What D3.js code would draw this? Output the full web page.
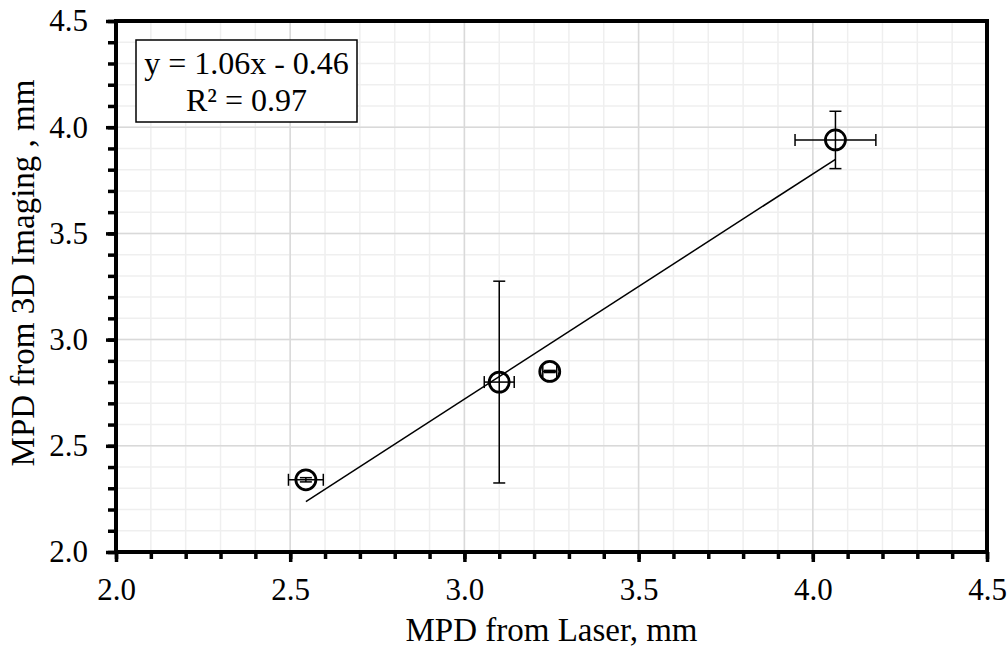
<!DOCTYPE html>
<html>
<head>
<meta charset="utf-8">
<script src="https://cdn.jsdelivr.net/npm/d3@7"></script>
<style>
body{margin:0;background:#fff;}
svg text{font-family:"Liberation Serif","Times New Roman",Times,"DejaVu Serif",serif !important;fill:#000;}
</style>
</head>
<body>
<div id="chart"></div>
<script>
var w = 1008;
var h = 650;
var margin = {top:21, right:21, bottom:98, left:116};

// data
var laserMPD = [2.545, 3.10, 3.245, 4.065];
var imagingMPD = [2.34, 2.80, 2.85, 3.94];
var laserErr = [0.05, 0.043, 0.02, 0.116];
var imagingErr = [0.01, 0.475, 0.005, 0.135];
var xTicks = [2.0, 2.5, 3.0, 3.5, 4.0, 4.5];
var yTicks = [2.0, 2.5, 3.0, 3.5, 4.0, 4.5];
var fitSlope = 1.06;
var fitIntercept = -0.46;
var fitLabel = ["y = 1.06x - 0.46", "R\u00B2 = 0.97"];

var pts = laserMPD.map(function(d,i){
	return {x:d, y:imagingMPD[i], ex:laserErr[i], ey:imagingErr[i]};
});

var svg = d3.select("#chart")
	.append("svg")
	.attr("width", w)
	.attr("height", h);

var xscale = d3.scaleLinear()
	.domain([2.0,4.5])
	.range([margin.left, w-margin.right]);

var yscale = d3.scaleLinear()
	.domain([2.0,4.5])
	.range([h-margin.bottom, margin.top]);

var minorTicks = d3.range(20,46).map(function(d){return d/10;});

// grid, minor first then major
svg.append("g").selectAll("line")
	.data(minorTicks)
	.enter().append("line")
		.attr("x1", function(d){return xscale(d)})
		.attr("x2", function(d){return xscale(d)})
		.attr("y1", yscale(2.0))
		.attr("y2", yscale(4.5))
		.style("stroke", "#efefef")
		.style("stroke-width", 1.5);
svg.append("g").selectAll("line")
	.data(minorTicks)
	.enter().append("line")
		.attr("y1", function(d){return yscale(d)})
		.attr("y2", function(d){return yscale(d)})
		.attr("x1", xscale(2.0))
		.attr("x2", xscale(4.5))
		.style("stroke", "#efefef")
		.style("stroke-width", 1.5);
svg.append("g").selectAll("line")
	.data(xTicks)
	.enter().append("line")
		.attr("x1", function(d){return xscale(d)})
		.attr("x2", function(d){return xscale(d)})
		.attr("y1", yscale(2.0))
		.attr("y2", yscale(4.5))
		.style("stroke", "#d9d9d9")
		.style("stroke-width", 1.5);
svg.append("g").selectAll("line")
	.data(yTicks)
	.enter().append("line")
		.attr("y1", function(d){return yscale(d)})
		.attr("y2", function(d){return yscale(d)})
		.attr("x1", xscale(2.0))
		.attr("x2", xscale(4.5))
		.style("stroke", "#d9d9d9")
		.style("stroke-width", 1.5);

// axes
var xMinor = d3.axisBottom(xscale).tickValues(minorTicks).tickSize(7).tickFormat("");
var xMajor = d3.axisBottom(xscale).tickValues(xTicks).tickSize(10).tickPadding(16).tickFormat(d3.format(".1f"));
var yMinor = d3.axisLeft(yscale).tickValues(minorTicks).tickSize(8).tickFormat("");
var yMajor = d3.axisLeft(yscale).tickValues(yTicks).tickSize(10).tickPadding(18).tickFormat(d3.format(".1f"));

[ [xMinor,"x"],[xMajor,"x"],[yMinor,"y"],[yMajor,"y"] ].forEach(function(a){
	var g = svg.append("g")
		.attr("transform", a[1]=="x" ? "translate(0,"+yscale(2.0)+")" : "translate("+xscale(2.0)+",0)")
		.call(a[0])
		.attr("font-family", null)
		.attr("font-size", null);
	g.select(".domain").remove();
	g.selectAll("line").style("stroke","#000").style("stroke-width",3.5);
	g.selectAll("text").style("font-size","31px");
});

// frame
svg.append("rect")
	.attr("x", xscale(2.0))
	.attr("y", yscale(4.5))
	.attr("width", xscale(4.5)-xscale(2.0))
	.attr("height", yscale(2.0)-yscale(4.5))
	.style("fill","none")
	.style("stroke","#000")
	.style("stroke-width",4);

// trend line over data range
var xr = d3.extent(laserMPD);
svg.append("line")
	.attr("x1", xscale(xr[0]))
	.attr("y1", yscale(fitSlope*xr[0]+fitIntercept))
	.attr("x2", xscale(xr[1]))
	.attr("y2", yscale(fitSlope*xr[1]+fitIntercept))
	.style("stroke","#000")
	.style("stroke-width",1.5);

// error bars
var cap = 6;
var eb = svg.append("g").selectAll("g")
	.data(pts)
	.enter().append("g")
	.style("stroke","#000")
	.style("stroke-width",1.5);
eb.append("line")
	.attr("x1", function(d){return xscale(d.x-d.ex)})
	.attr("x2", function(d){return xscale(d.x+d.ex)})
	.attr("y1", function(d){return yscale(d.y)})
	.attr("y2", function(d){return yscale(d.y)});
eb.append("line")
	.attr("x1", function(d){return xscale(d.x-d.ex)})
	.attr("x2", function(d){return xscale(d.x-d.ex)})
	.attr("y1", function(d){return yscale(d.y)-cap})
	.attr("y2", function(d){return yscale(d.y)+cap});
eb.append("line")
	.attr("x1", function(d){return xscale(d.x+d.ex)})
	.attr("x2", function(d){return xscale(d.x+d.ex)})
	.attr("y1", function(d){return yscale(d.y)-cap})
	.attr("y2", function(d){return yscale(d.y)+cap});
eb.append("line")
	.attr("x1", function(d){return xscale(d.x)})
	.attr("x2", function(d){return xscale(d.x)})
	.attr("y1", function(d){return yscale(d.y-d.ey)})
	.attr("y2", function(d){return yscale(d.y+d.ey)});
eb.append("line")
	.attr("x1", function(d){return xscale(d.x)-cap})
	.attr("x2", function(d){return xscale(d.x)+cap})
	.attr("y1", function(d){return yscale(d.y+d.ey)})
	.attr("y2", function(d){return yscale(d.y+d.ey)});
eb.append("line")
	.attr("x1", function(d){return xscale(d.x)-cap})
	.attr("x2", function(d){return xscale(d.x)+cap})
	.attr("y1", function(d){return yscale(d.y-d.ey)})
	.attr("y2", function(d){return yscale(d.y-d.ey)});

// markers
svg.append("g").selectAll("circle")
	.data(pts)
	.enter().append("circle")
		.attr("cx", function(d){return xscale(d.x)})
		.attr("cy", function(d){return yscale(d.y)})
		.attr("r", 10)
		.style("fill","none")
		.style("stroke","#000")
		.style("stroke-width",2.8);

// equation box
svg.append("rect")
	.attr("x",136)
	.attr("y",40)
	.attr("width",221)
	.attr("height",82)
	.style("fill","#fff")
	.style("stroke","#000")
	.style("stroke-width",1.5);
svg.append("g").selectAll("text")
	.data(fitLabel)
	.enter().append("text")
		.attr("x",246.5)
		.attr("y",function(d,i){return 74+i*37})
		.attr("text-anchor","middle")
		.style("font-size","32px")
		.text(function(d){return d});

// axis titles
svg.append("text")
	.attr("x", (xscale(2.0)+xscale(4.5))/2)
	.attr("y", 641)
	.attr("text-anchor","middle")
	.style("font-size","33px")
	.text("MPD from Laser, mm");
svg.append("text")
	.attr("transform","translate(34,"+273+") rotate(-90)")
	.attr("text-anchor","middle")
	.style("font-size","33px")
	.text("MPD from 3D Imaging , mm");
</script>
</body>
</html>
